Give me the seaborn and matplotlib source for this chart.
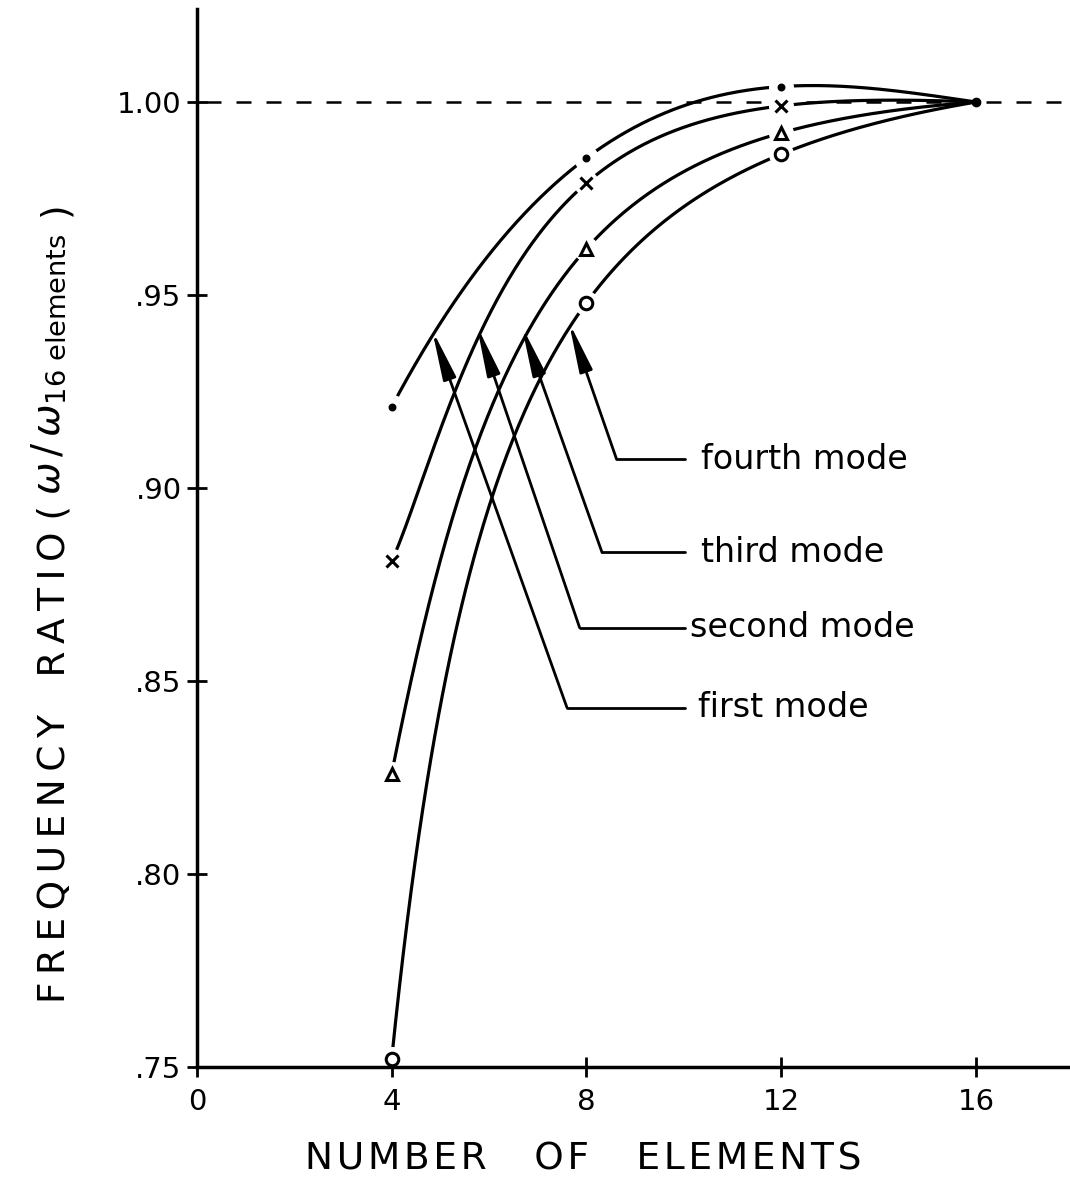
# Frequency ratio vs number of elements (convergence of the first four modes)
import numpy as np
import pandas as pd
import matplotlib
matplotlib.use('Agg')
import matplotlib.pyplot as plt
import seaborn as sns

# Data
elements = [4, 8, 12, 16]
first_mode = [0.921, 0.9855, 1.004, 1.000]
second_mode = [0.881, 0.979, 0.999, 1.000]
third_mode = [0.826, 0.962, 0.992, 1.000]
fourth_mode = [0.752, 0.948, 0.9865, 1.000]
mode_names = ['first mode', 'second mode', 'third mode', 'fourth mode']
x_ticks = [0, 4, 8, 12, 16]
y_ticks = [0.75, 0.80, 0.85, 0.90, 0.95, 1.00]
y_tick_labels = ['.75', '.80', '.85', '.90', '.95', '1.00']

sns.set_style('ticks')
plt.rcParams['font.family'] = ['DejaVu Sans']
plt.rcParams['mathtext.fontset'] = 'dejavusans'
plt.rcParams['text.color'] = 'black'

fig = plt.figure(figsize=(10.7, 12.01), dpi=100)
ax = fig.add_axes([0.184, 0.1116, 0.816, 0.8806])

series = [first_mode, second_mode, third_mode, fourth_mode]
markers = ['.', 'x', '^', 'o']
msizes = [7, 8, 9, 9]
fills = ['black', 'black', 'white', 'white']
# smoothing variable for the hand drawn curves: N or 1/N
curve_power = [1, -1, -1, -1]

x = np.array(elements, dtype=float)
for vals, mk, ms, fc, p in zip(series, markers, msizes, fills, curve_power):
    coef = np.polyfit(x ** p, vals, 3)
    xs = np.linspace(4, 16, 300)
    curve = pd.DataFrame({'n': xs, 'r': np.polyval(coef, xs ** p)})
    sns.lineplot(data=curve, x='n', y='r', ax=ax, color='black', lw=2.3, zorder=2)
    pts = pd.DataFrame({'n': elements[:3], 'r': vals[:3]})
    # white halo leaves a gap in the curve around each marker
    ax.plot(pts['n'], pts['r'], ls='none', marker='o', ms=17, mfc='white',
            mec='white', zorder=3)
    ax.plot(pts['n'], pts['r'], ls='none', marker=mk, ms=ms, mfc=fc,
            mec='black', mew=2.2, zorder=4)

ax.plot([elements[-1]], [first_mode[-1]], ls='none', marker='o', ms=6,
        color='black', zorder=4)

# dashed reference line at 1.00
ax.axhline(1.0, xmin=0.01, xmax=1, color='black', lw=1.8,
           ls=(0, (6, 6)), zorder=1)

# leader lines: (arrow tip on curve, elbow, end of horizontal leader, text x)
leaders = [
    ((4.83, 0.941), (7.60, 0.8431), 10.02, 10.30),
    ((5.75, 0.942), (7.86, 0.8638), 10.02, 10.12),
    ((6.67, 0.942), (8.32, 0.8833), 10.02, 10.35),
    ((7.64, 0.943), (8.62, 0.9074), 10.02, 10.35),
]
for name, (tip, elbow, hend, tx) in zip(mode_names, leaders):
    ax.plot([elbow[0], hend], [elbow[1], elbow[1]], color='black', lw=2, zorder=2)
    ax.annotate('', xy=tip, xytext=elbow,
                arrowprops=dict(arrowstyle='-|>,head_length=1.5,head_width=0.2',
                                color='black', lw=2, shrinkA=0, shrinkB=0,
                                mutation_scale=20),
                zorder=5)
    ax.text(tx, elbow[1], name, fontsize=24, va='center', ha='left')

ax.set_xlim(0, 17.93)
ax.set_ylim(0.75, 1.024)
ax.set_xticks(x_ticks)
ax.set_xticklabels([str(t) for t in x_ticks])
ax.set_yticks(y_ticks)
ax.set_yticklabels(y_tick_labels)
ax.tick_params(axis='both', direction='inout', length=14, width=2,
               labelsize=21, colors='black')
ax.tick_params(axis='x', pad=8)
ax.tick_params(axis='y', pad=4)
ax.set_xlabel('')
ax.set_ylabel('')
sns.despine(ax=ax)
for side in ['left', 'bottom']:
    ax.spines[side].set_linewidth(2.5)
    ax.spines[side].set_color('black')
    ax.spines[side].set_zorder(6)

hair = '\u200a'
thin = '\u2009'
xlab = '    '.join(hair.join(w) for w in ['NUMBER', 'OF', 'ELEMENTS'])
fig.text(583 / 1070, 1 - 1160 / 1201, xlab, fontsize=27,
         ha='center', va='center')

# y label built from pieces so the ratio part can be sized on its own
W, H = 1070, 1201
renderer = fig.canvas.get_renderer()
ylab_main = thin.join('FREQUENCY') + '\u2003' + thin.join('RATIO') + ' ('
t1 = fig.text(73 / W, 1 - 1003 / H, ylab_main, fontsize=27, rotation=90,
              ha='right', va='bottom')
top = t1.get_window_extent(renderer).y1
t2 = fig.text(68 / W, (top + 10) / H,
              r'$\omega\,/\,\omega_{16\ \mathrm{elements}}$',
              fontsize=28, rotation=90, ha='right', va='bottom')
top = t2.get_window_extent(renderer).y1
fig.text(73 / W, (top + 18) / H, ')', fontsize=27, rotation=90,
         ha='right', va='bottom')

fig.savefig('out.png', dpi=100, facecolor='white')
